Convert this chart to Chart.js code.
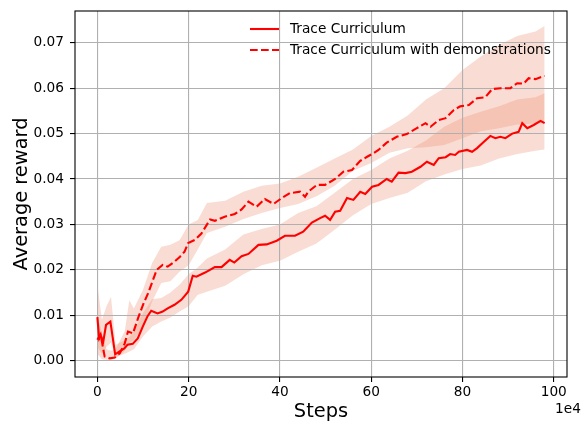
<!DOCTYPE html>
<html>
<head>
<meta charset="utf-8">
<script src="https://cdn.jsdelivr.net/npm/chart.js@4.4.0/dist/chart.umd.min.js"></script>
<style>
  html, body { margin: 0; padding: 0; background: #fff; }
  canvas { display: block; }
</style>
</head>
<body>
<canvas id="rewardChart" width="581" height="425"></canvas>
<script>
// x is in units of 1e4 steps
const curX = [0, 0.4, 0.8, 1.3, 1.9, 2.85, 3.9, 4.8, 5.9, 6.6, 7.75, 8.85, 9.95, 11, 11.8, 13.2, 14.3, 15.4, 16.9, 18.4,
  19.9, 20.9, 21.7, 23.6, 25.75, 27.2, 29, 30, 31.6, 33.1, 35.3, 37.1, 39.3, 41.1, 43.3, 45.1, 47, 48.8, 49.9, 51,
  52.1, 53.2, 54.7, 56.1, 57.6, 58.7, 60.2, 61.6, 63.4, 64.5, 66, 67.5, 68.9, 70.8, 72.2, 73.7, 74.8, 76.3, 77.3, 78.4,
  79.2, 81, 82.1, 83.2, 84.7, 86.1, 87.2, 88.3, 89.4, 90.9, 92.3, 93.1, 94.2, 95.6, 97.1, 98];
const curY = [0.0096, 0.0048, 0.0054, 0.0042, 0.0079, 0.0086, 0.0014, 0.0020, 0.0027, 0.0035, 0.0037, 0.0049, 0.0075, 0.0098, 0.0110, 0.0104, 0.0108, 0.0115, 0.0123, 0.0134,
  0.0152, 0.0187, 0.0185, 0.0194, 0.0206, 0.0206, 0.0222, 0.0216, 0.0230, 0.0235, 0.0255, 0.0256, 0.0264, 0.0275, 0.0275, 0.0284, 0.0304, 0.0314, 0.0319, 0.0310,
  0.0328, 0.0330, 0.0358, 0.0354, 0.0372, 0.0367, 0.0383, 0.0387, 0.0400, 0.0394, 0.0414, 0.0413, 0.0416, 0.0427, 0.0438, 0.0431, 0.0446, 0.0448, 0.0455, 0.0453,
  0.0460, 0.0464, 0.0460, 0.0468, 0.0482, 0.0495, 0.0490, 0.0493, 0.0490, 0.0500, 0.0504, 0.0523, 0.0512, 0.0519, 0.0528, 0.0523];

const demoX = [0, 0.7, 1.6, 2.7, 3.8, 4.9, 6, 6.7, 7.8, 8.9, 10, 11.1, 12.6, 13, 14.3, 15.4, 16.9, 18.1, 19.1, 19.9,
  21.4, 22.8, 24.7, 25.75, 27.9, 30.1, 31.6, 33.1, 34.9, 36.7, 38.6, 40.4, 42.2, 44.4, 45.5, 46.2, 48.1, 49.9, 52.1, 53.9,
  55.8, 57.6, 59.1, 60.2, 61.6, 63.4, 65.6, 67.8, 70, 71.9, 73, 74.8, 76.3, 78.1, 79.5, 81.4, 83.2, 85, 86.5, 88.3,
  90.5, 92, 93.4, 94.5, 96, 97.1, 98];
const demoY = [0.0046, 0.0058, 0.0009, 0.0005, 0.0007, 0.0016, 0.0038, 0.0064, 0.0060, 0.0093, 0.0123, 0.0148, 0.0189, 0.0200, 0.0211, 0.0207, 0.0218, 0.0229, 0.0240, 0.0259,
  0.0266, 0.0280, 0.0311, 0.0308, 0.0317, 0.0323, 0.0333, 0.0350, 0.0339, 0.0356, 0.0345, 0.0358, 0.0369, 0.0372, 0.0361, 0.0372, 0.0387, 0.0387, 0.0400, 0.0416,
  0.0420, 0.0440, 0.0449, 0.0455, 0.0464, 0.0480, 0.0493, 0.0499, 0.0512, 0.0523, 0.0515, 0.0530, 0.0534, 0.0552, 0.0560, 0.0563, 0.0578, 0.0580, 0.0598, 0.0600,
  0.0600, 0.0611, 0.0610, 0.0622, 0.0620, 0.0624, 0.0627];

// spread bands around each curve
const bandX = [0, 1, 2, 3, 4, 6, 7, 8, 10, 12, 14, 16, 18, 20, 22, 24, 28, 32, 36, 40,
  44, 48, 52, 56, 60, 64, 68, 72, 76, 80, 84, 88, 92, 96, 98];
const curLow = [0.0030, 0.0015, 0.0030, 0.0040, 0.0008, 0.0015, 0.0020, 0.0025, 0.0053, 0.0075, 0.0086, 0.0095, 0.0108, 0.0120, 0.0145, 0.0152, 0.0165, 0.0190, 0.0210, 0.0220,
  0.0240, 0.0258, 0.0288, 0.0320, 0.0345, 0.0358, 0.0370, 0.0395, 0.0410, 0.0422, 0.0430, 0.0445, 0.0455, 0.0462, 0.0465];
const curHigh = [0.0167, 0.0090, 0.0120, 0.0140, 0.0035, 0.0045, 0.0052, 0.0065, 0.0105, 0.0135, 0.0138, 0.0150, 0.0167, 0.0190, 0.0205, 0.0225, 0.0245, 0.0278, 0.0290, 0.0300,
  0.0325, 0.0340, 0.0370, 0.0400, 0.0420, 0.0445, 0.0462, 0.0485, 0.0515, 0.0535, 0.0548, 0.0560, 0.0575, 0.0580, 0.0589];
const demoLow = [0.0015, 0.0003, 0.0002, 0.0002, 0.0004, 0.0022, 0.0040, 0.0045, 0.0075, 0.0130, 0.0171, 0.0175, 0.0196, 0.0210, 0.0245, 0.0281, 0.0295, 0.0312, 0.0325, 0.0336,
  0.0345, 0.0362, 0.0385, 0.0418, 0.0435, 0.0458, 0.0468, 0.0470, 0.0475, 0.0490, 0.0505, 0.0512, 0.0520, 0.0522, 0.0523];
const demoHigh = [0.0100, 0.0060, 0.0025, 0.0022, 0.0025, 0.0065, 0.0133, 0.0115, 0.0156, 0.0215, 0.0251, 0.0255, 0.0265, 0.0300, 0.0310, 0.0347, 0.0352, 0.0372, 0.0385, 0.0390,
  0.0405, 0.0425, 0.0445, 0.0465, 0.0495, 0.0515, 0.0540, 0.0575, 0.0600, 0.0640, 0.0670, 0.0695, 0.0715, 0.0725, 0.0737];

const xTicks = [0, 20, 40, 60, 80, 100];
const yTicks = [0, 0.01, 0.02, 0.03, 0.04, 0.05, 0.06, 0.07];
const yTickLabels = ['0.00', '0.01', '0.02', '0.03', '0.04', '0.05', '0.06', '0.07'];

const seriesNames = ['Trace Curriculum', 'Trace Curriculum with demonstrations'];

const pts = (xs, ys) => xs.map((x, i) => ({ x: x, y: ys[i] }));

const bandFill = 'rgba(235, 140, 110, 0.3)';
const FONT = '"DejaVu Sans", sans-serif';

function bandSet(ys, fill) {
  return {
    data: pts(bandX, ys),
    borderWidth: 0,
    borderColor: 'rgba(0,0,0,0)',
    backgroundColor: bandFill,
    pointRadius: 0,
    fill: fill
  };
}

// legend without frame, top right inside the axes
const insideLegend = {
  id: 'insideLegend',
  afterDraw(chart) {
    const ctx = chart.ctx;
    ctx.save();
    ctx.font = '13.7px ' + FONT;
    ctx.textBaseline = 'middle';
    ctx.textAlign = 'left';
    chart.data.datasets.slice(0, 2).forEach((ds, i) => {
      const y = 29 + i * 21;
      ctx.strokeStyle = ds.borderColor;
      ctx.lineWidth = ds.borderWidth;
      ctx.setLineDash(ds.borderDash || []);
      ctx.beginPath();
      ctx.moveTo(250, y);
      ctx.lineTo(279, y);
      ctx.stroke();
      ctx.fillStyle = '#000';
      ctx.fillText(ds.label, 290, y);
    });
    ctx.restore();
  }
};

// axes box on all four sides + the x offset text
const axesFrame = {
  id: 'axesFrame',
  afterDatasetsDraw(chart) {
    const { ctx, chartArea: a } = chart;
    ctx.save();
    ctx.strokeStyle = '#000';
    ctx.lineWidth = 1.1;
    ctx.strokeRect(a.left, a.top, a.right - a.left, a.bottom - a.top);
    ctx.font = '13.7px ' + FONT;
    ctx.fillStyle = '#000';
    ctx.textAlign = 'left';
    ctx.textBaseline = 'middle';
    ctx.fillText('1e4', 555, 409);
    ctx.restore();
  }
};

new Chart(document.getElementById('rewardChart'), {
  type: 'line',
  data: {
    datasets: [
      {
        label: seriesNames[0],
        data: pts(curX, curY),
        borderColor: '#ff0000',
        borderWidth: 2.1,
        pointRadius: 0,
        fill: false
      },
      {
        label: seriesNames[1],
        data: pts(demoX, demoY),
        borderColor: '#ff0000',
        borderWidth: 2.1,
        borderDash: [7.7, 3.3],
        pointRadius: 0,
        fill: false
      },
      bandSet(curHigh, '+1'),
      bandSet(curLow, false),
      bandSet(demoHigh, '+1'),
      bandSet(demoLow, false)
    ]
  },
  options: {
    responsive: false,
    animation: false,
    layout: { padding: { top: 11, right: 14, left: 0, bottom: 0 } },
    plugins: {
      legend: { display: false },
      tooltip: { enabled: false },
      filler: { drawTime: 'beforeDraw' }
    },
    scales: {
      x: {
        type: 'linear',
        min: -4.9,
        max: 102.9,
        afterBuildTicks: (s) => { s.ticks = xTicks.map(v => ({ value: v })); },
        afterFit: (s) => { s.height = 48; s.paddingLeft = 0; s.paddingRight = 0; },
        grid: { color: '#b0b0b0', lineWidth: 1.1, tickColor: '#000', tickLength: 5, tickWidth: 1.1 },
        border: { display: false },
        ticks: {
          color: '#000',
          padding: 2,
          maxRotation: 0,
          font: { family: FONT, size: 13.7 },
          callback: (v) => String(v)
        },
        title: {
          display: true,
          text: 'Steps',
          color: '#000',
          font: { family: FONT, size: 19.4 },
          padding: { top: 0, bottom: 1.5 }
        }
      },
      y: {
        type: 'linear',
        min: -0.0036,
        max: 0.077,
        afterBuildTicks: (s) => { s.ticks = yTicks.map(v => ({ value: v })); },
        afterFit: (s) => { s.width = 75; s.paddingTop = 0; s.paddingBottom = 0; },
        grid: { color: '#b0b0b0', lineWidth: 1.1, tickColor: '#000', tickLength: 5, tickWidth: 1.1 },
        border: { display: false },
        ticks: {
          color: '#000',
          padding: 6,
          font: { family: FONT, size: 13.7 },
          callback: (v) => yTickLabels[yTicks.findIndex(t => Math.abs(t - v) < 1e-9)]
        },
        title: {
          display: true,
          text: 'Average reward',
          color: '#000',
          font: { family: FONT, size: 19.4 },
          padding: { top: 10.5, bottom: 0 }
        }
      }
    }
  },
  plugins: [insideLegend, axesFrame]
});
</script>
</body>
</html>
